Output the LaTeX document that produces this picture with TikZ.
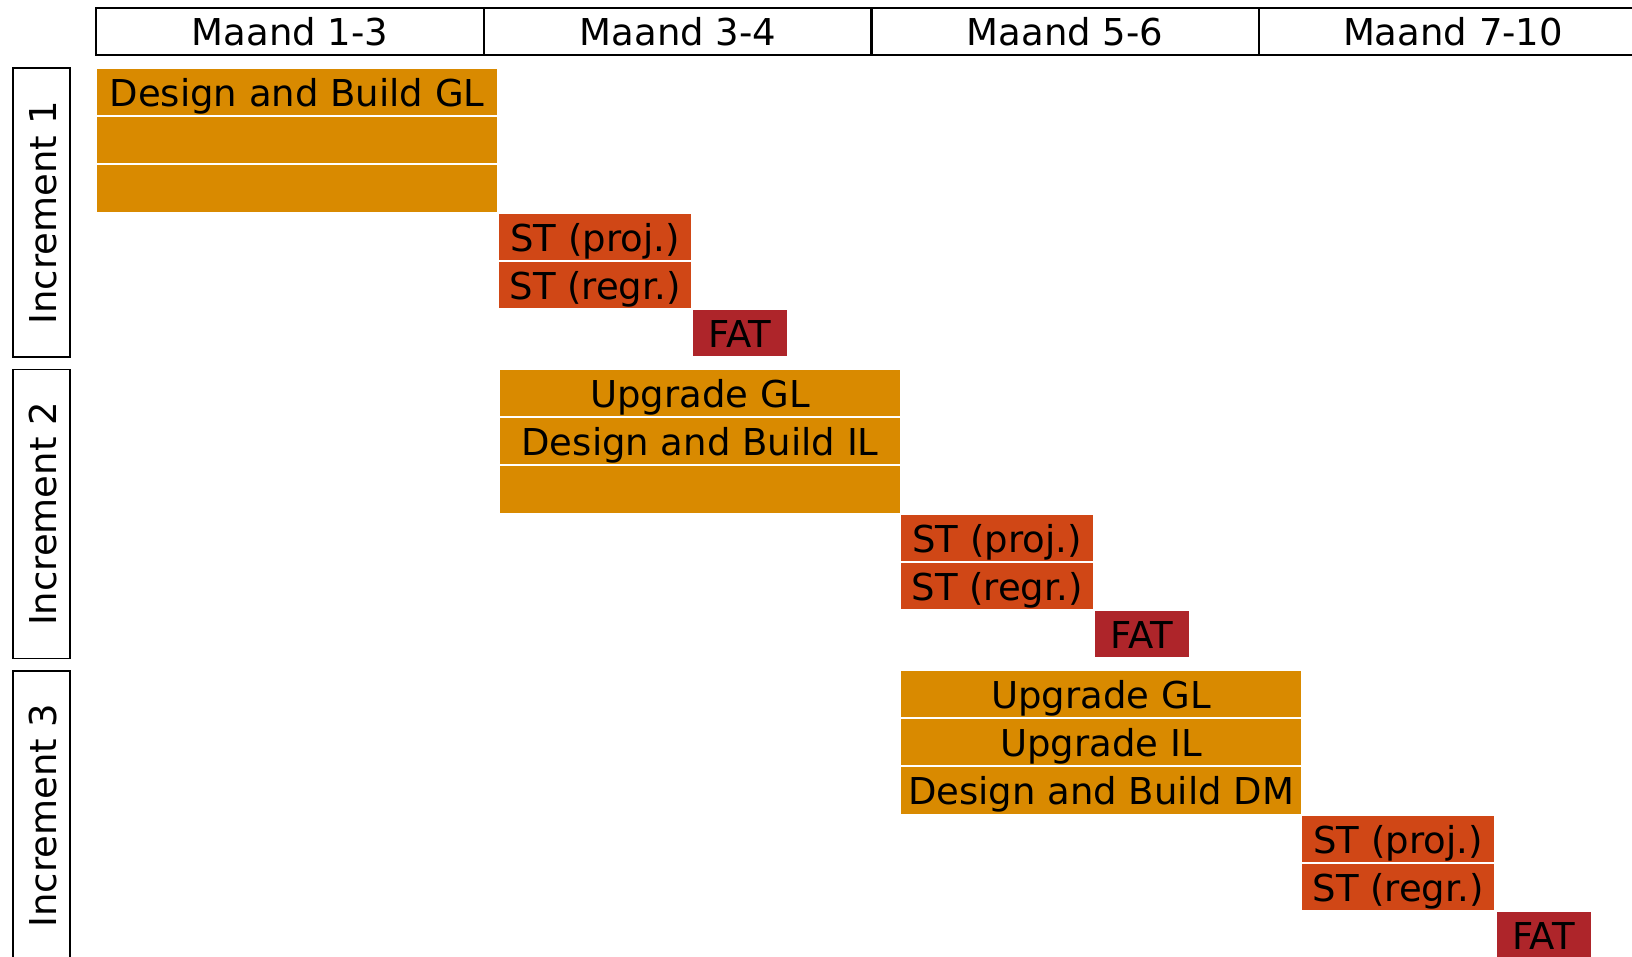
\documentclass[tikz,border=0pt]{standalone}
\usepackage{fontspec}
\setmainfont{DejaVu Sans}
\definecolor{designorange}{RGB}{217,138,0}
\definecolor{strust}{RGB}{208,71,22}
\definecolor{fatred}{RGB}{174,37,42}

\begin{document}
\begin{tikzpicture}[
                    x=1pt, y=-1pt,
                    every node/.style={font=\fontsize{37}{44}\selectfont, inner sep=0pt, text height=29pt, text depth=0pt},
                    month/.style={draw, line width=1.6pt, minimum width=388pt, minimum height=47pt},
                    increment/.style={draw, line width=1.6pt, rotate=90, minimum width=289pt, minimum height=57pt},
                    bar/.style={draw=white, line width=2pt, minimum height=48.17pt},
                    designbar/.style={bar, fill=designorange, minimum width=402pt},
                    stbar/.style={bar, fill=strust, minimum width=194pt},
                    fatbar/.style={bar, fill=fatred, minimum width=96pt}
            ]
                \useasboundingbox (0,0) rectangle (1632,957);

                \node [month] (m13)  at (290,31.5)  {Maand 1-3};
                \node [month] (m34)  at (678,31.5)  {Maand 3-4};
                \node [month] (m56)  at (1065,31.5) {Maand 5-6};
                \node [month] (m710) at (1453,31.5) {Maand 7-10};

                \node [increment] (inc1) at (41.5,212.5) {Increment 1};
                \node [increment] (inc2) at (41.5,514)   {Increment 2};
                \node [increment] (inc3) at (41.5,815.5) {Increment 3};

                \node [designbar] (dbgl)   at (297,92.08)   {Design and Build GL};
                \node [designbar] (inc1b)  at (297,140.25)  {};
                \node [designbar] (inc1c)  at (297,188.42)  {};
                \node [stbar]     (st1p)   at (595,236.59)  {ST (proj.)};
                \node [stbar]     (st1r)   at (595,284.76)  {ST (regr.)};
                \node [fatbar]    (fat1)   at (740,332.93)  {FAT};

                \node [designbar] (upgl2)  at (700,393.08)  {Upgrade GL};
                \node [designbar] (dbil)   at (700,441.25)  {Design and Build IL};
                \node [designbar] (inc2c)  at (700,489.42)  {};
                \node [stbar]     (st2p)   at (997,537.59)  {ST (proj.)};
                \node [stbar]     (st2r)   at (997,585.76)  {ST (regr.)};
                \node [fatbar]    (fat2)   at (1142,633.93) {FAT};

                \node [designbar] (upgl3)  at (1101,694.08) {Upgrade GL};
                \node [designbar] (upil3)  at (1101,742.25) {Upgrade IL};
                \node [designbar] (dbdm)   at (1101,790.42) {Design and Build DM};
                \node [stbar]     (st3p)   at (1398,838.59) {ST (proj.)};
                \node [stbar]     (st3r)   at (1398,886.76) {ST (regr.)};
                \node [fatbar]    (fat3)   at (1543.5,934.93) {FAT};
            \end{tikzpicture}
\end{document}
